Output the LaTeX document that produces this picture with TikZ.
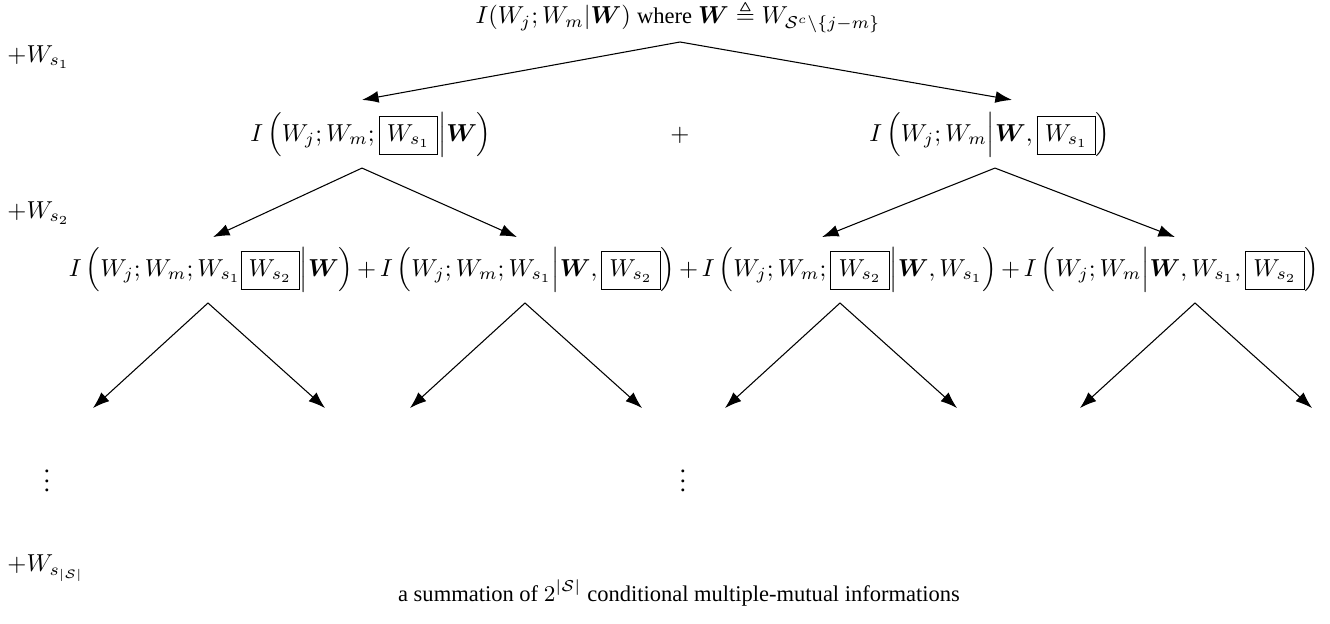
\RequirePackage{fix-cm}
\documentclass[tikz,border=0pt]{standalone}
\usepackage{amsmath,amssymb}
\usepackage[no-math]{fontspec}
\setmainfont{Liberation Serif}
\usetikzlibrary{arrows.meta, positioning}
\tikzset{
  arrowT/.style={-{Latex[length=7pt,width=5pt]}, line width=0.45pt},
  term/.style={inner sep=0pt, outer sep=0pt},
  side/.style={inner sep=0pt, anchor=west},
}
\newcommand{\txt}[1]{{\fontsize{9.5pt}{11pt}\selectfont #1}}

\begin{document}
\begin{tikzpicture}[x=0.422pt, y=-0.422pt, font=\fontsize{10.35pt}{12.5pt}\selectfont,
    node distance=1.6pt]
  \useasboundingbox (0,0) rectangle (1330,624);
  % root
  \node[term] (root) at (678,17)
    {$I(W_j;W_m|\boldsymbol{W})$ \txt{where} $\boldsymbol{W}\triangleq W_{\mathcal{S}^c\setminus\{j-m\}}$};
  % first split
  \node[term] (a) at (371,135)
    {$I\left(W_j;W_m;\boxed{W_{s_1}}\middle|\boldsymbol{W}\right)$};
  \node[term] (plusA) at (680,135) {$+$};
  \node[term] (b) at (990,135)
    {$I\left(W_j;W_m\middle|\boldsymbol{W},\boxed{W_{s_1}}\right)$};
  % second split
  \node[term, anchor=west] (t1) at (69,270)
    {$I\left(W_j;W_m;W_{s_1}\boxed{W_{s_2}}\middle|\boldsymbol{W}\right)$};
  \node[term, right=of t1] (p1) {$+$};
  \node[term, right=of p1] (t2)
    {$I\left(W_j;W_m;W_{s_1}\middle|\boldsymbol{W},\boxed{W_{s_2}}\right)$};
  \node[term, right=of t2] (p2) {$+$};
  \node[term, right=of p2] (t3)
    {$I\left(W_j;W_m;\boxed{W_{s_2}}\middle|\boldsymbol{W},W_{s_1}\right)$};
  \node[term, right=of t3] (p3) {$+$};
  \node[term, right=of p3] (t4)
    {$I\left(W_j;W_m\middle|\boldsymbol{W},W_{s_1},\boxed{W_{s_2}}\right)$};
  % left margin
  \node[side] (s1) at (7,57) {$+W_{s_1}$};
  \node[side] (s2) at (7,213) {$+W_{s_2}$};
  \node[term] (dl) at (47,474) {$\vdots$};
  \node[side] (sS) at (7,568) {$+W_{s_{|\mathcal{S}|}}$};
  \node[term] (dm) at (683,474) {$\vdots$};
  \node[term] (sum) at (679,593)
    {\txt{a summation of $2^{|\mathcal{S}|}$ conditional multiple-mutual informations}};

  \coordinate (rootTip) at (680,42);
  \draw[arrowT] (rootTip) -- ([shift={(-9,-13)}]a.north);
  \draw[arrowT] (rootTip) -- ([shift={(22,-13)}]b.north);
  \draw[arrowT] ([shift={(-9,11)}]a.south) -- ([shift={(-158,80)}]a.south);
  \draw[arrowT] ([shift={(-9,11)}]a.south) -- ([shift={(146,80)}]a.south);
  \draw[arrowT] ([shift={(5,11)}]b.south) -- ([shift={(-168,80)}]b.south);
  \draw[arrowT] ([shift={(5,11)}]b.south) -- ([shift={(185,80)}]b.south);
  % bottom branches
  \foreach \x in {208, 525, 840, 1195} {
    \draw[arrowT] (\x,303) -- ++(-115,105);
    \draw[arrowT] (\x,303) -- ++(117,105);
  }
\end{tikzpicture}
\end{document}
